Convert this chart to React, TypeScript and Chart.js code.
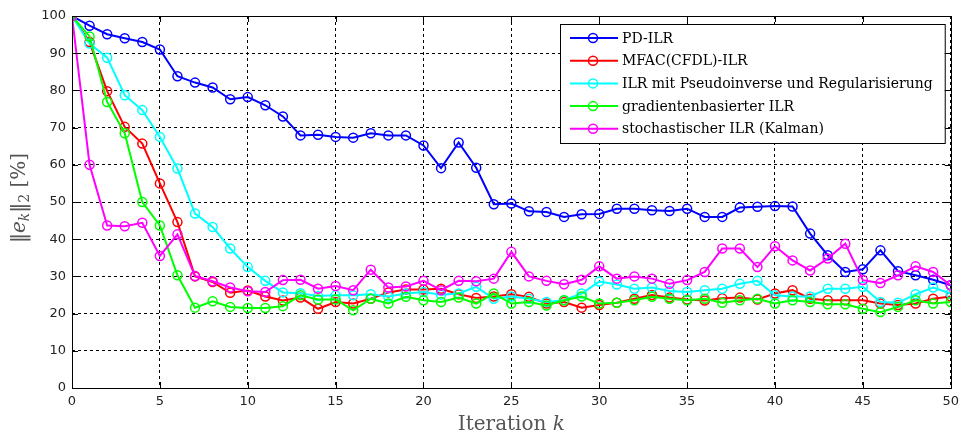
import React, { useEffect, useRef } from "react";
import { Chart, registerables } from "chart.js";

Chart.register(...registerables);

const iterations = [
  0, 1, 2, 3, 4, 5, 6, 7, 8, 9, 10, 11, 12, 13, 14, 15, 16, 17, 18, 19, 20,
  21, 22, 23, 24, 25, 26, 27, 28, 29, 30, 31, 32, 33, 34, 35, 36, 37, 38, 39,
  40, 41, 42, 43, 44, 45, 46, 47, 48, 49, 50,
];

const xTickValues = [0, 5, 10, 15, 20, 25, 30, 35, 40, 45, 50];
const yTickValues = [0, 10, 20, 30, 40, 50, 60, 70, 80, 90, 100];

const pdIlr = [
  100, 97.4, 95.1, 94, 93, 91, 83.8, 82.1, 80.8, 77.6, 78.2, 76, 73, 67.9, 68.1,
  67.5, 67.3, 68.5, 67.9, 67.9, 65.2, 59.1, 66, 59.2, 49.4, 49.6, 47.5, 47.3, 46,
  46.7, 46.8, 48.2, 48.2, 47.8, 47.6, 48.2, 46, 46, 48.5, 48.7, 48.9, 48.8, 41.5,
  35.7, 31.2, 31.9, 37, 31.4, 30.3, 29.1, 27.6,
];

const mfacIlr = [
  100, 93, 79.8, 70.2, 65.7, 55, 44.6, 30, 28.5, 25.6, 26.2, 24.6, 23.5, 24.3,
  21.3, 23.1, 22.7, 24, 25.7, 26.5, 26.5, 26.7, 25.2, 24.2, 24.6, 25.2, 24.5,
  22.7, 23.1, 21.6, 22.3, 22.9, 24, 25, 24.3, 23.8, 23.5, 24.1, 24.3, 23.8, 25.4,
  26.3, 24, 23.6, 23.6, 23.6, 22.7, 22.3, 22.7, 24, 24.6,
];

const pseudoIlr = [
  100, 92.6, 88.8, 78.7, 74.7, 67.5, 59, 46.9, 43.3, 37.5, 32.5, 28.8, 25.7,
  25.5, 24.7, 24.9, 24.9, 25.2, 24.6, 25.4, 25.8, 25.1, 25.4, 27.2, 24, 24.6, 24,
  23.1, 23.6, 25.4, 28.6, 27.8, 26.7, 27, 26.1, 25.8, 26.3, 26.7, 28, 28.8, 24.9,
  24.6, 24.6, 26.7, 26.7, 27.2, 23.1, 22.9, 25.2, 27, 25.4,
];

const gradientIlr = [
  100, 94.5, 76.9, 68.5, 50, 43.7, 30.3, 21.6, 23.3, 21.8, 21.5, 21.5, 22, 24.9,
  23.8, 23.8, 20.9, 24, 22.7, 24.5, 23.6, 23.1, 24.3, 22.7, 25.4, 22.7, 23.1,
  22.2, 23.6, 24.6, 22.7, 22.9, 23.6, 24.5, 24, 23.6, 24, 22.9, 23.6, 24, 22.7,
  23.6, 23.1, 22.5, 22.5, 21.3, 20.4, 21.8, 23.6, 22.7, 23.1,
];

const kalmanIlr = [
  100, 60, 43.7, 43.5, 44.4, 35.5, 41.3, 30.1, 28.7, 27, 26, 25.8, 29, 29.1,
  26.7, 27.4, 26.3, 31.8, 27, 27.3, 28.8, 26.3, 28.8, 28.7, 29.4, 36.6, 30, 28.8,
  27.9, 29.1, 32.7, 29.4, 30, 29.4, 28, 29, 31.2, 37.5, 37.5, 32.5, 38.1, 34.3,
  31.6, 34.8, 38.8, 29, 28.2, 30.3, 32.7, 31.2, 27.6,
];

const seriesNames = [
  "PD-ILR",
  "MFAC(CFDL)-ILR",
  "ILR mit Pseudoinverse und Regularisierung",
  "gradientenbasierter ILR",
  "stochastischer ILR (Kalman)",
];
const seriesValues = [pdIlr, mfacIlr, pseudoIlr, gradientIlr, kalmanIlr];
const seriesColors = ["#0000ff", "#ff0000", "#00ffff", "#00ff00", "#ff00ff"];

const xTitleMain = "Iteration ";
const xTitleVar = "k";

const SERIF = "'DejaVu Serif', serif";
const SANS = "'DejaVu Sans', sans-serif";
const TITLE_COLOR = "#555555";

const decorPlugin = {
  id: "decor",
  afterDraw(chart: any) {
    const ctx: CanvasRenderingContext2D = chart.ctx;
    const { left, right, top, bottom } = chart.chartArea;
    const xs = chart.scales.x;
    const ys = chart.scales.y;
    ctx.save();

    // frame
    ctx.strokeStyle = "#000";
    ctx.lineWidth = 1;
    ctx.setLineDash([]);
    ctx.strokeRect(Math.round(left) + 0.5, Math.round(top) + 0.5, Math.round(right - left), Math.round(bottom - top));

    // inward tick marks
    const tl = 6;
    ctx.beginPath();
    xTickValues.forEach((v) => {
      const px = Math.round(xs.getPixelForValue(v)) + 0.5;
      ctx.moveTo(px, bottom);
      ctx.lineTo(px, bottom - tl);
      ctx.moveTo(px, top);
      ctx.lineTo(px, top + tl);
    });
    yTickValues.forEach((v) => {
      const py = Math.round(ys.getPixelForValue(v)) + 0.5;
      ctx.moveTo(left, py);
      ctx.lineTo(left + tl, py);
      ctx.moveTo(right, py);
      ctx.lineTo(right - tl, py);
    });
    ctx.stroke();

    // x title
    ctx.fillStyle = TITLE_COLOR;
    ctx.textBaseline = "middle";
    ctx.textAlign = "left";
    ctx.font = `20px ${SERIF}`;
    const w1 = ctx.measureText(xTitleMain).width;
    ctx.font = `italic 20px ${SERIF}`;
    const w2 = ctx.measureText(xTitleVar).width;
    const cx = (left + right) / 2;
    const x0 = cx - (w1 + w2) / 2;
    const ty = 425;
    ctx.font = `20px ${SERIF}`;
    ctx.fillText(xTitleMain, x0, ty);
    ctx.font = `italic 20px ${SERIF}`;
    ctx.fillText(xTitleVar, x0 + w1, ty);

    // y title: ||e_k||_2 [%]
    const runs = [
      { t: "\u2016", f: `20px ${SERIF}`, dy: 0 },
      { t: "e", f: `italic 20px ${SERIF}`, dy: 0 },
      { t: "k", f: `italic 14px ${SERIF}`, dy: 5 },
      { t: "\u2016", f: `20px ${SERIF}`, dy: 0 },
      { t: "2", f: `14px ${SERIF}`, dy: 5 },
      { t: " [%]", f: `20px ${SERIF}`, dy: 0 },
    ];
    let total = 0;
    const widths = runs.map((r) => {
      ctx.font = r.f;
      const w = ctx.measureText(r.t).width;
      total += w;
      return w;
    });
    ctx.translate(20, (top + bottom) / 2 - 4);
    ctx.rotate(-Math.PI / 2);
    let rx = -total / 2;
    runs.forEach((r, i) => {
      ctx.font = r.f;
      ctx.fillText(r.t, rx, r.dy);
      rx += widths[i];
    });
    ctx.setTransform(1, 0, 0, 1, 0, 0);
    ctx.restore();

    // legend
    ctx.save();
    const boxRight = right - 6;
    const boxLeft = 560;
    const boxTop = top + 8;
    const rowH = 22.7;
    const boxH = 119;
    ctx.fillStyle = "#fff";
    ctx.fillRect(boxLeft, boxTop, boxRight - boxLeft, boxH);
    ctx.strokeStyle = "#000";
    ctx.lineWidth = 1;
    ctx.strokeRect(boxLeft + 0.5, boxTop + 0.5, boxRight - boxLeft, boxH);
    ctx.font = `14px ${SERIF}`;
    ctx.textBaseline = "middle";
    ctx.textAlign = "left";
    seriesNames.forEach((name, i) => {
      const y = boxTop + 14 + i * rowH;
      ctx.strokeStyle = seriesColors[i];
      ctx.lineWidth = 2;
      ctx.beginPath();
      ctx.moveTo(boxLeft + 10, y);
      ctx.lineTo(boxLeft + 58, y);
      ctx.stroke();
      ctx.lineWidth = 1.5;
      ctx.beginPath();
      ctx.arc(boxLeft + 33, y, 4.5, 0, Math.PI * 2);
      ctx.stroke();
      ctx.fillStyle = "#000";
      ctx.fillText(name, boxLeft + 62, y + 1);
    });
    ctx.restore();
  },
};

export default function App() {
  const canvasRef = useRef<HTMLCanvasElement>(null);

  useEffect(() => {
    if (!canvasRef.current) return;
    const datasets = seriesNames.map((name, i) => ({
      label: name,
      data: iterations.map((k, j) => ({ x: k, y: seriesValues[i][j] })),
      borderColor: seriesColors[i],
      backgroundColor: "rgba(0,0,0,0)",
      borderWidth: 2,
      pointRadius: 4.5,
      pointBorderWidth: 1.5,
      pointBackgroundColor: "rgba(0,0,0,0)",
      pointBorderColor: seriesColors[i],
      tension: 0,
      order: seriesNames.length - i,
    }));

    const chart = new Chart(canvasRef.current, {
      type: "line",
      data: { datasets },
      options: {
        animation: false,
        responsive: true,
        maintainAspectRatio: false,
        layout: { padding: { left: 0, top: 16, right: 12, bottom: 0 } },
        plugins: { legend: { display: false }, tooltip: { enabled: false } },
        scales: {
          x: {
            type: "linear",
            min: 0,
            max: 50,
            afterFit: (s: any) => {
              s.height = 49;
            },
            afterBuildTicks: (s: any) => {
              s.ticks = xTickValues.map((v) => ({ value: v }));
            },
            ticks: {
              padding: 6,
              color: "#222",
              font: { family: SANS, size: 13 },
              maxRotation: 0,
            },
            grid: { color: "#000", lineWidth: 1, drawTicks: false },
            border: { display: false, dash: [3, 3] },
          },
          y: {
            type: "linear",
            min: 0,
            max: 100,
            afterFit: (s: any) => {
              s.width = 72;
            },
            afterBuildTicks: (s: any) => {
              s.ticks = yTickValues.map((v) => ({ value: v }));
            },
            ticks: {
              padding: 6,
              color: "#222",
              font: { family: SANS, size: 13 },
            },
            grid: { color: "#000", lineWidth: 1, drawTicks: false },
            border: { display: false, dash: [3, 3] },
          },
        },
      },
      plugins: [decorPlugin],
    });
    return () => chart.destroy();
  }, []);

  return (
    <div style={{ position: "absolute", left: 0, top: 0, width: 965, height: 437, background: "#fff" }}>
      <canvas ref={canvasRef} />
    </div>
  );
}
